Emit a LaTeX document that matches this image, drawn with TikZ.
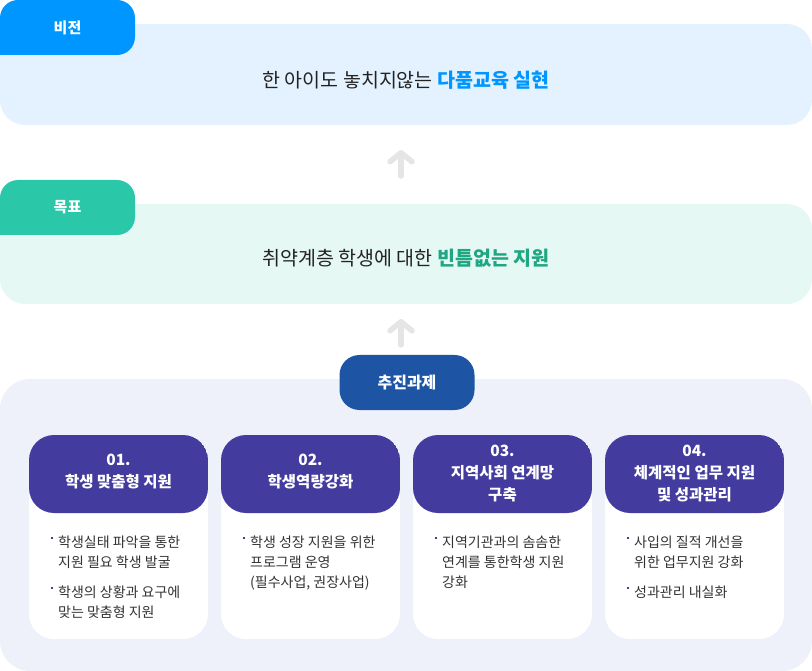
\documentclass[tikz,border=0pt]{standalone}
\usepackage{fontspec}
\setmainfont{Noto Sans CJK KR}
\usetikzlibrary{arrows.meta}

\definecolor{visionblue}{HTML}{0096FF}
\definecolor{visionbg}{HTML}{E3F2FE}
\definecolor{goalgreen}{HTML}{2AC8A8}
\definecolor{goaltext}{HTML}{1FA783}
\definecolor{goalbg}{HTML}{E6F8F4}
\definecolor{taskblue}{HTML}{1D55A4}
\definecolor{taskbg}{HTML}{EEF1F9}
\definecolor{headpurple}{HTML}{433C9E}
\definecolor{arrowgray}{HTML}{E5E5E5}
\definecolor{maintxt}{HTML}{222222}
\definecolor{bodytxt}{HTML}{333333}

\newcommand\bdot{\makebox[7pt][l]{\textcolor{headpurple}{\rule[8.5pt]{2.2pt}{2.2pt}}}}

\tikzset{
  panel/.style={rounded corners=25pt, minimum width=812pt, inner sep=0pt},
  tabbox/.style={rounded corners=18pt, minimum width=135pt, minimum height=55pt, inner sep=0pt,
    text=white, font=\fontsize{15}{15}\selectfont\bfseries},
  maintext/.style={text=maintxt, inner sep=0pt, font=\fontsize{19.5}{19.5}\selectfont},
  uparrow/.style={arrowgray, line width=5.5pt, line cap=round,
    -{Straight Barb[length=9pt, width=22pt, line cap=round, line join=round]}},
  card/.style={fill=white, rounded corners=25pt, minimum width=179pt, minimum height=204pt, inner sep=0pt,
    path picture={\fill[headpurple] (path picture bounding box.north west) rectangle
      ([yshift=-78pt]path picture bounding box.north east);}},
  headtext/.style={text=white, align=center, inner sep=0pt, font=\fontsize{15.5}{22}\selectfont\bfseries},
  bodytext/.style={text=bodytxt, anchor=north west, inner sep=0pt, font=\fontsize{14}{20}\selectfont}
}

\begin{document}
\begin{tikzpicture}[x=1pt, y=-1pt]
\useasboundingbox (0,0) rectangle (812,671);

\node[panel, fill=visionbg, minimum height=101pt] (vision) at (406,74.5) {};
\node[tabbox, fill=visionblue] (visiontab) at (67.5,27.5) {비전};
\fill[visionblue] (0,37) rectangle (18,55);
\node[maintext] (visiontext) at (406,80) {한 아이도 놓치지않는 {\bfseries\color{visionblue}다품교육 실현}};

\node[panel, fill=goalbg, minimum height=100pt] (goal) at (406,254) {};
\node[tabbox, fill=goalgreen] (goaltab) at (67.5,207.5) {목표};
\fill[goalgreen] (0,217) rectangle (18,235);
\node[maintext] (goaltext) at (406,258) {취약계층 학생에 대한 {\bfseries\color{goaltext}빈틈없는 지원}};

\node[panel, fill=taskbg, minimum height=292pt, rounded corners=30pt] (task) at (406,525) {};
\node[tabbox, fill=taskblue, rounded corners=20pt, font=\fontsize{16}{16}\selectfont\bfseries] (tasktab) at (407,382.5) {추진과제};

\coordinate (a1s) at (401,176);
\coordinate (a1e) at (401,150);
\coordinate (a2s) at (401,345);
\coordinate (a2e) at (401,319);
\draw[uparrow] (a1s) -- (a1e);
\draw[uparrow] (a2s) -- (a2e);

\node[card] (c1) at (118.5,537) {};
\node[card] (c2) at (310.5,537) {};
\node[card] (c3) at (502.5,537) {};
\node[card] (c4) at (694.5,537) {};

\node[headtext] (h1) at (118.5,472) {01.\\학생 맞춤형 지원};
\node[headtext] (h2) at (310.5,472) {02.\\학생역량강화};
\node[headtext] (h3) at (502.5,474) {03.\\지역사회 연계망\\구축};
\node[headtext] (h4) at (694.5,474) {04.\\체계적인 업무 지원\\및 성과관리};

\node[bodytext] (b1) at (51,533) {\begin{tabular}{@{}l@{}l@{}}
\bdot & 학생실태 파악을 통한\\ & 지원 필요 학생 발굴\\[10pt]
\bdot & 학생의 상황과 요구에\\ & 맞는 맞춤형 지원
\end{tabular}};
\node[bodytext] (b2) at (243,533) {\begin{tabular}{@{}l@{}l@{}}
\bdot & 학생 성장 지원을 위한\\ & 프로그램 운영\\ & (필수사업, 권장사업)
\end{tabular}};
\node[bodytext] (b3) at (435,533) {\begin{tabular}{@{}l@{}l@{}}
\bdot & 지역기관과의 솜솜한\\ & 연계를 통한학생 지원\\ & 강화
\end{tabular}};
\node[bodytext] (b4) at (627,533) {\begin{tabular}{@{}l@{}l@{}}
\bdot & 사입의 질적 개선을\\ & 위한 업무지원 강화\\[10pt]
\bdot & 성과관리 내실화
\end{tabular}};
\end{tikzpicture}
\end{document}
